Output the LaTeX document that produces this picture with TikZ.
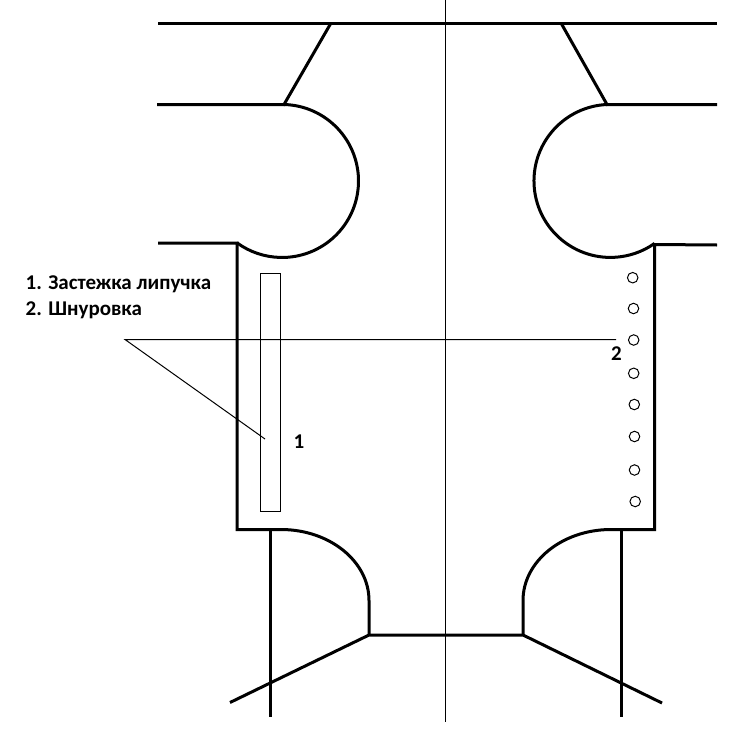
\documentclass[tikz,border=0pt]{standalone}
\usepackage{fontspec}
\setmainfont{Carlito}
\tikzset{
  thick line/.style={line width=3pt,line cap=butt,line join=miter,black},
  thin line/.style={line width=1pt,black},
  hole/.style={circle,draw=black,line width=1pt,minimum size=10.5pt,inner sep=0pt,fill=white},
  lab/.style={font=\fontsize{21}{23}\selectfont\bfseries,inner sep=0pt,anchor=base west,text=black}
}
\begin{document}
\begin{tikzpicture}[x=1pt,y=1pt]
\useasboundingbox[fill=white] (0,0) rectangle (749,-728);
% named points
\coordinate (tl) at (158,-23); \coordinate (tr) at (717,-23);
\coordinate (nl) at (331,-23); \coordinate (nr) at (561,-23);
\coordinate (sl) at (284,-104.5); \coordinate (sr) at (607,-104.5);
\coordinate (sle) at (157,-104.5); \coordinate (sre) at (717,-104.5);
\coordinate (al) at (237,-243); \coordinate (ar) at (654.5,-244.5);
\coordinate (ale) at (158,-243); \coordinate (are) at (717,-245);
\coordinate (bl) at (237,-529.5); \coordinate (br) at (654.5,-529.5);
\coordinate (cl) at (281,-529.5); \coordinate (cr) at (611,-529.5);
\coordinate (dl) at (369,-635); \coordinate (dr) at (523,-635);
\coordinate (fl) at (230,-702.5); \coordinate (fr) at (662,-703);
\coordinate (ll) at (270,-530); \coordinate (lr) at (621,-530);
\coordinate (lle) at (270,-717); \coordinate (lre) at (621,-717);
\coordinate (ct) at (445,0); \coordinate (cb) at (445,-722);
\coordinate (pt) at (125,-339.5); \coordinate (pe) at (616,-339.5);
\coordinate (pd) at (265,-439);
% thin guides
\draw[thin line] (ct) -- (cb);
\draw[thin line] (pe) -- (pt) -- (pd);
\node[draw=black,line width=1pt,minimum width=20pt,minimum height=238pt,inner sep=0pt,anchor=north west] (strip) at (260,-273) {};
% outline
\draw[thick line] (tl) -- (tr);
\draw[thick line] (nl) -- (sl) -- (sle);
\draw[thick line] (nr) -- (sr) -- (sre);
\draw[thick line] (sl) arc[start angle=88.5,end angle=-126.1,radius=76.5];
\draw[thick line] (sr) arc[start angle=92.6,end angle=305.2,radius=76.5];
\draw[thick line] (ale) -- (al) -- (bl) -- (cl) arc[start angle=90,end angle=0,x radius=88,y radius=71] -- (dl);
\draw[thick line] (are) -- (ar) -- (br) -- (cr) arc[start angle=90,end angle=180,x radius=88,y radius=71] -- (dr);
\draw[thick line] (fl) -- (dl) -- (dr) -- (fr);
\draw[thick line] (ll) -- (lle);
\draw[thick line] (lr) -- (lre);
% lacing holes
\node[hole] (h1) at (632.7,-277.7) {};
\node[hole] (h2) at (633.5,-308.5) {};
\node[hole] (h3) at (633.7,-340) {};
\node[hole] (h4) at (633.7,-373.3) {};
\node[hole] (h5) at (634.3,-404.5) {};
\node[hole] (h6) at (634.5,-436.5) {};
\node[hole] (h7) at (634.5,-470) {};
\node[hole] (h8) at (635.2,-501.5) {};
% labels
\node[lab] (t1) at (25.5,-289.3) {1. Застежка липучка};
\node[lab] (t2) at (25.5,-315.5) {2. Шнуровка};
\node[lab] (n1) at (293.5,-448) {1};
\node[lab] (n2) at (611,-360) {2};
\end{tikzpicture}
\end{document}
